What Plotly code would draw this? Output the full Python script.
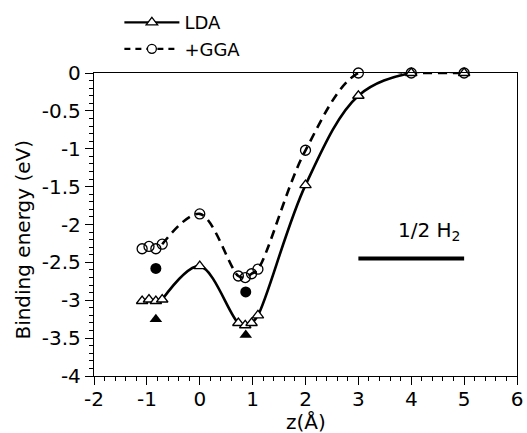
import plotly.graph_objects as go

# Binding energy vs. height z above the surface
z_lda = [-1.09, -0.96, -0.83, -0.71, 0.0, 0.73, 0.86, 0.98, 1.10, 2.0, 3.0, 4.0, 5.0]
e_lda = [-3.01, -2.99, -3.01, -2.99, -2.55, -3.30, -3.33, -3.30, -3.20, -1.48, -0.30, 0.0, 0.0]

z_gga = [-1.09, -0.96, -0.83, -0.71, 0.0, 0.73, 0.86, 0.98, 1.10, 2.0, 3.0, 4.0, 5.0]
e_gga = [-2.32, -2.29, -2.32, -2.26, -1.86, -2.68, -2.70, -2.65, -2.59, -1.02, 0.0, 0.0, 0.0]

# Relaxed-site values (filled symbols)
z_relaxed = [-0.83, 0.87]
e_relaxed_lda = [-3.25, -3.46]
e_relaxed_gga = [-2.58, -2.89]

# Reference level of 1/2 H2
h2_span = [3.0, 5.0]
h2_energy = -2.45

# Tick positions and labels (plain hyphen-minus)
x_ticks = [-2, -1, 0, 1, 2, 3, 4, 5, 6]
x_ticklabels = ["-2", "-1", "0", "1", "2", "3", "4", "5", "6"]
y_ticks = [0, -0.5, -1, -1.5, -2, -2.5, -3, -3.5, -4]
y_ticklabels = ["0", "-0.5", "-1", "-1.5", "-2", "-2.5", "-3", "-3.5", "-4"]

# The smooth curves start at the outermost point of the first cluster
curve_start = 3

FONT = "DejaVu Sans"
BLACK = "black"

fig = go.Figure()

# Smooth fitted curves
fig.add_trace(go.Scatter(
    x=z_lda[curve_start:], y=e_lda[curve_start:], mode="lines",
    line=dict(color=BLACK, width=2.6, shape="spline", smoothing=1.0),
    showlegend=False, hoverinfo="skip"))
fig.add_trace(go.Scatter(
    x=z_gga[curve_start:], y=e_gga[curve_start:], mode="lines",
    line=dict(color=BLACK, width=2.6, shape="spline", smoothing=1.0, dash="9px,6px"),
    showlegend=False, hoverinfo="skip"))

# Calculated points
fig.add_trace(go.Scatter(
    x=z_lda, y=e_lda, mode="markers", cliponaxis=False,
    marker=dict(symbol="triangle-up", size=10, color="white",
                line=dict(color=BLACK, width=1.3)),
    showlegend=False))
fig.add_trace(go.Scatter(
    x=z_gga, y=e_gga, mode="markers", cliponaxis=False,
    marker=dict(symbol="circle", size=10, color="rgba(0,0,0,0)",
                line=dict(color=BLACK, width=1.3)),
    showlegend=False))

# Relaxed-site points
fig.add_trace(go.Scatter(
    x=z_relaxed, y=e_relaxed_lda, mode="markers", cliponaxis=False,
    marker=dict(symbol="triangle-up", size=11, color=BLACK), showlegend=False))
fig.add_trace(go.Scatter(
    x=z_relaxed, y=e_relaxed_gga, mode="markers", cliponaxis=False,
    marker=dict(symbol="circle", size=11, color=BLACK), showlegend=False))

# 1/2 H2 reference bar
fig.add_trace(go.Scatter(
    x=h2_span, y=[h2_energy, h2_energy], mode="lines",
    line=dict(color=BLACK, width=4), showlegend=False, hoverinfo="skip"))

# Legend entries
fig.add_trace(go.Scatter(
    x=[None], y=[None], mode="lines+markers", name="LDA",
    line=dict(color=BLACK, width=2.2),
    marker=dict(symbol="triangle-up", size=10, color="white",
                line=dict(color=BLACK, width=1.3))))
fig.add_trace(go.Scatter(
    x=[None], y=[None], mode="lines+markers", name="+GGA",
    line=dict(color=BLACK, width=2.2, dash="6px,5px"),
    marker=dict(symbol="circle", size=9, color="white",
                line=dict(color=BLACK, width=1.3))))

fig.add_annotation(
    x=4.35, y=-2.09, xref="x", yref="y", text="1/2 H<sub>2</sub>",
    showarrow=False, font=dict(family=FONT, size=20, color=BLACK))

# Axis titles
fig.add_annotation(
    x=0.5, y=-0.153, xref="paper", yref="paper", xanchor="center", yanchor="middle",
    text="z(Å)", showarrow=False, font=dict(family=FONT, size=20, color=BLACK))
fig.add_annotation(
    x=-0.168, y=0.45, xref="paper", yref="paper", xanchor="center", yanchor="middle",
    text="Binding energy (eV)", textangle=-90, showarrow=False,
    font=dict(family=FONT, size=20, color=BLACK))

axis_common = dict(
    showgrid=False, zeroline=False, showline=True, linecolor=BLACK,
    linewidth=1.3, mirror=True, ticks="outside", ticklen=8, tickwidth=1.3,
    tickcolor=BLACK, tickfont=dict(family=FONT, size=20, color=BLACK))

fig.update_xaxes(
    range=[-2, 6], tickmode="array", tickvals=x_ticks, ticktext=x_ticklabels,
    ticklabelstandoff=-3,
    minor=dict(dtick=0.2, tick0=-2, ticklen=4, tickwidth=1, tickcolor=BLACK, ticks="outside"),
    **axis_common)
fig.update_yaxes(
    range=[-4, 0], tickmode="array", tickvals=y_ticks, ticktext=y_ticklabels,
    minor=dict(dtick=0.1, tick0=0, ticklen=4, tickwidth=1, tickcolor=BLACK, ticks="outside"),
    **axis_common)

fig.update_layout(
    width=527, height=433,
    margin=dict(l=94, r=10, t=73, b=57, autoexpand=False),
    paper_bgcolor="white", plot_bgcolor="white",
    font=dict(family=FONT, color=BLACK),
    legend=dict(x=0.06, y=1.227, xanchor="left", yanchor="top",
                font=dict(family=FONT, size=18, color=BLACK),
                itemwidth=55, bgcolor="rgba(0,0,0,0)", tracegroupgap=0),
)

fig.write_html("out.html")
